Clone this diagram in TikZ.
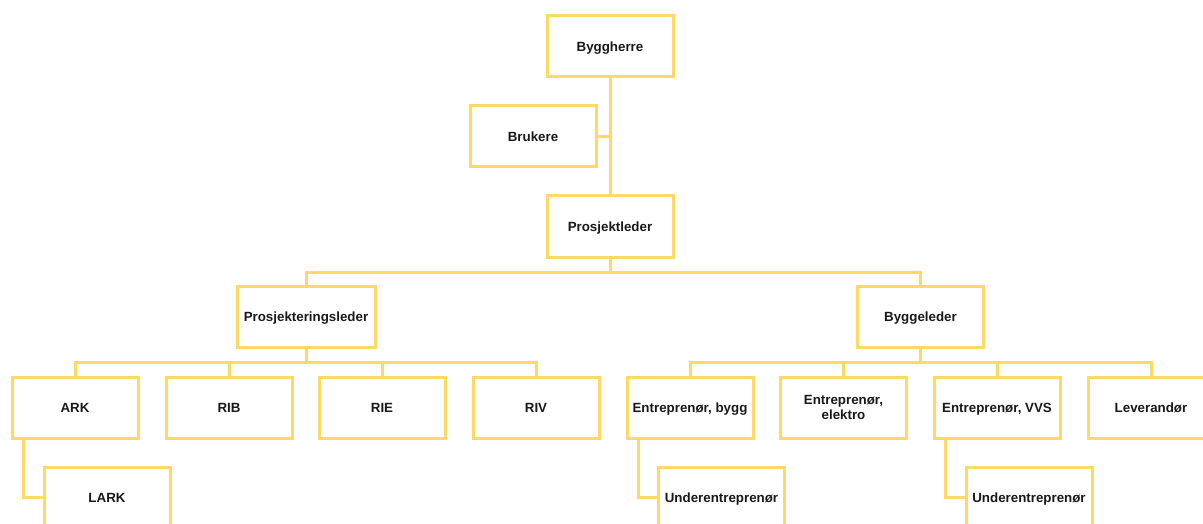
\documentclass[tikz,border=0pt]{standalone}
\usepackage{fontspec}
\setmainfont{Liberation Sans}
\usepackage{tikz}
\usetikzlibrary{calc}

\definecolor{orgyellow}{HTML}{FFD966}
\tikzset{
  orgbox/.style={draw=orgyellow, line width=2.25pt, fill=white,
    minimum width=94.5pt, minimum height=45.75pt, align=center,
    inner sep=2pt, text depth=0pt, text=black!90,
    font=\fontsize{10}{11.25}\selectfont\bfseries},
  orgline/.style={draw=orgyellow, line width=2.25pt},
}

\begin{document}
\begin{tikzpicture}[x=0.75pt, y=-0.75pt]
\path[use as bounding box, clip] (0,0) rectangle (1203,524);
\coordinate (busa) at (0,272);
\coordinate (busb) at (0,362);

% top of the chart
\node[orgbox] (herre) at (610,46.5) {Byggherre};
\node[orgbox] (brukere) at (533,136.5) {Brukere};
\node[orgbox] (pl) at (610,226.5) {Prosjektleder};
\node[orgbox, minimum width=103.5pt] (prl) at (306,317) {Prosjekteringsleder};
\node[orgbox] (bl) at (920.5,317) {Byggeleder};

% design group
\node[orgbox] (ark) at (75,407.5) {ARK};
\node[orgbox] (rib) at (229,407.5) {RIB};
\node[orgbox] (rie) at (382,407.5) {RIE};
\node[orgbox] (riv) at (536,407.5) {RIV};
\node[orgbox] (lark) at (107,497.5) {LARK};

% building group
\node[orgbox] (eb) at (690,407.5) {Entreprenør, bygg};
\node[orgbox] (ee) at (843.5,407.5) {Entreprenør,\\elektro};
\node[orgbox] (evvs) at (997,407.5) {Entreprenør, VVS};
\node[orgbox] (lev) at (1151,407.5) {Leverandør};
\node[orgbox] (ueb) at (721.5,497.5) {Underentreprenør};
\node[orgbox] (uevvs) at (1029,497.5) {Underentreprenør};

% connectors
\draw[orgline] (herre.south) -- (pl.north);
\draw[orgline] (brukere.east) -- (brukere.east -| herre);
\draw[orgline] (pl.south) -- (pl.south |- busa);
\draw[orgline] (prl.north) |- (busa -| bl) -- (bl.north);

\draw[orgline] (prl.south) -- (prl.south |- busb);
\draw[orgline] (ark.north) |- (busb -| riv) -- (riv.north);
\foreach \n in {rib,rie}
  \draw[orgline] (\n.north) -- (\n.north |- busb);

\draw[orgline] (bl.south) -- (bl.south |- busb);
\draw[orgline] (eb.north) |- (busb -| lev) -- (lev.north);
\foreach \n in {ee,evvs}
  \draw[orgline] (\n.north) -- (\n.north |- busb);

\draw[orgline] ($(ark.south west)+(13,0)$) |- (lark.west);
\draw[orgline] ($(eb.south west)+(13,0)$) |- (ueb.west);
\draw[orgline] ($(evvs.south west)+(13,0)$) |- (uevvs.west);
\end{tikzpicture}
\end{document}
